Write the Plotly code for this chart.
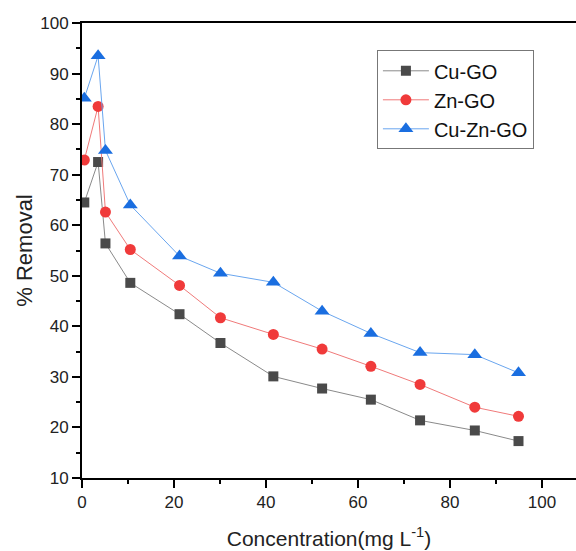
import plotly.graph_objects as go

conc = [0.5, 3.5, 5.1, 10.5, 21.2, 30.1, 41.6, 52.2, 62.8, 73.5, 85.4, 94.9]
cu_go = [64.5, 72.5, 56.4, 48.6, 42.4, 36.7, 30.1, 27.7, 25.5, 21.4, 19.4, 17.3]
zn_go = [72.9, 83.5, 62.6, 55.2, 48.1, 41.7, 38.4, 35.5, 32.1, 28.5, 24.0, 22.2]
cu_zn_go = [85.1, 93.5, 74.8, 64.0, 53.9, 50.5, 48.7, 43.0, 38.6, 34.8, 34.4, 30.8]

series = [
    ("Cu-GO", cu_go, "square", 10, "#4a4a4a", "#8a8a8a"),
    ("Zn-GO", zn_go, "circle", 11, "#f03a3a", "#f07a7a"),
    ("Cu-Zn-GO", cu_zn_go, "triangle-up", 13, "#1a6ee0", "#6aa6ef"),
]

fig = go.Figure()
for name, ys, sym, sz, mc, lc in series:
    fig.add_trace(go.Scatter(
        x=conc, y=ys, name=name, mode="lines+markers",
        line=dict(color=lc, width=1),
        marker=dict(symbol=sym, size=sz, color=mc, line=dict(width=0)),
    ))

fig.update_layout(
    width=576, height=551,
    margin=dict(l=82, r=0, t=23, b=73),
    paper_bgcolor="white", plot_bgcolor="white",
    font=dict(family="Arial, Liberation Sans, sans-serif", color="#222222", size=17),
    showlegend=True,
    legend=dict(
        x=0.597, y=0.94, xanchor="left", yanchor="top",
        bordercolor="#777777", borderwidth=1, bgcolor="white",
        font=dict(size=20, color="#111111"),
        itemwidth=46, tracegroupgap=0,
    ),
)
fig.update_xaxes(
    range=[0, 107.4], showline=True, linecolor="black", linewidth=2, mirror=True,
    ticks="outside", ticklen=8, tickwidth=1.5, tickcolor="black",
    tickvals=[0, 20, 40, 60, 80, 100], showgrid=False, zeroline=False,
    minor=dict(tickvals=[10, 30, 50, 70, 90], ticks="outside", ticklen=4, tickwidth=1.5, tickcolor="black"),
    title=dict(text="Concentration(mg L<sup>-1</sup>)", font=dict(size=21), standoff=20),
)
fig.update_yaxes(
    range=[10, 100], showline=True, linecolor="black", linewidth=2,
    ticks="outside", ticklen=8, tickwidth=1.5, tickcolor="black",
    tickvals=[10, 20, 30, 40, 50, 60, 70, 80, 90, 100], showgrid=False, zeroline=False,
    minor=dict(tickvals=[15, 25, 35, 45, 55, 65, 75, 85, 95], ticks="outside", ticklen=4, tickwidth=1.5, tickcolor="black"),
    title=dict(text="% Removal", font=dict(size=22), standoff=2),
)

fig.write_html("out.html")
